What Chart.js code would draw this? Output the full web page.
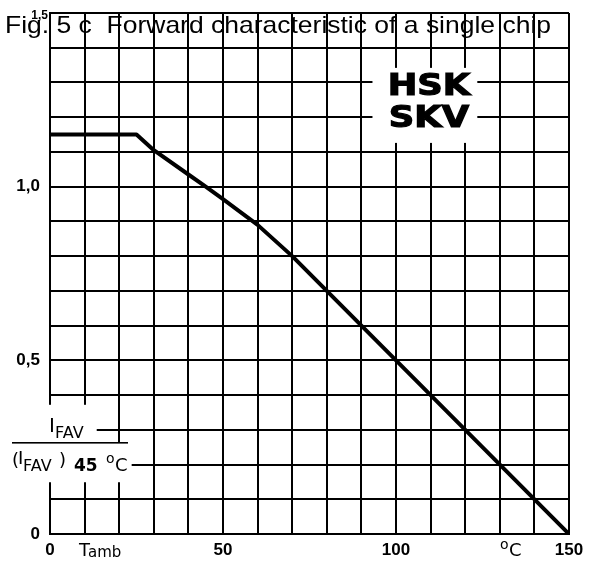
<!DOCTYPE html>
<html>
<head>
<meta charset="utf-8">
<script src="https://cdn.jsdelivr.net/npm/chart.js@4/dist/chart.umd.min.js"></script>
<style>
  html, body { margin: 0; padding: 0; background: #fff; }
  #wrap { width: 589px; height: 563px; position: relative; }
</style>
</head>
<body>
<div id="wrap"><canvas id="myChart"></canvas></div>
<script>
// Derating curve
const ambientTemp = [0, 25, 30, 40, 45, 50, 60, 70, 150];                 // °C
const currentRatio = [1.15, 1.15, 1.105, 1.035, 1.0, 0.964, 0.89, 0.8, 0]; // IFAV / (IFAV) 45 °C

// Only a few grid lines carry labels
const xTickLabels = { 0: '0', 50: '50', 100: '100', 150: '150' };
const yTickLabels = { 0: '0', 0.5: '0,5', 1: '1,0' };
const topTickLabel = '1,5';

const titleText = 'Fig. 5 c  Forward characteristic of a single chip';
const typeLabels = ['HSK', 'SKV'];

// fill a white patch given in data units
function whitePatch(ctx, xs, ys, x0, x1, y0, y1) {
  const left = x0 === null ? 8 : xs.getPixelForValue(x0);
  const right = xs.getPixelForValue(x1);
  const top = ys.getPixelForValue(y0);
  const bottom = ys.getPixelForValue(y1);
  ctx.fillRect(left, top, right - left, bottom - top);
}

// Text and white patches drawn over the grid, like in the printed sheet
const overlayPlugin = {
  id: 'overlay',
  afterDraw(chart) {
    const ctx = chart.ctx;
    const xs = chart.scales.x;
    const ys = chart.scales.y;
    ctx.save();

    // white patches behind the labels
    ctx.fillStyle = '#fff';
    whitePatch(ctx, xs, ys, null, 13.5, 0.372, 0.262);
    whitePatch(ctx, xs, ys, null, 23.6, 0.264, 0.149);
    whitePatch(ctx, xs, ys, 93.2, 123.5, 1.342, 1.126);

    ctx.fillStyle = '#000';
    ctx.strokeStyle = '#000';
    ctx.textBaseline = 'alphabetic';

    // small top tick label, tucked under the title
    ctx.font = 'bold 12px "Liberation Sans", Arial, sans-serif';
    ctx.textAlign = 'right';
    ctx.fillText(topTickLabel, 48, 19);

    // title runs across the top row of the grid, stretched to the printed width
    ctx.font = '24px "Liberation Sans", Arial, sans-serif';
    ctx.textAlign = 'left';
    const tw = ctx.measureText(titleText).width;
    ctx.save();
    ctx.translate(5, 33);
    ctx.scale(546 / tw, 1);
    ctx.fillText(titleText, 0, 0);
    ctx.restore();

    // type designations in a heavy face
    ctx.font = 'bold 30px "DejaVu Sans", sans-serif';
    ctx.textAlign = 'center';
    ctx.lineWidth = 1.2;
    [[typeLabels[0], 95], [typeLabels[1], 127]].forEach(([txt, base]) => {
      ctx.save();
      ctx.translate(429, base);
      ctx.scale(1.18, 1);
      ctx.fillText(txt, 0, 0);
      ctx.strokeText(txt, 0, 0);
      ctx.restore();
    });

    // y axis title as a fraction
    ctx.textAlign = 'left';
    ctx.font = '20px "DejaVu Sans", sans-serif';
    ctx.fillText('I', 49, 432);
    ctx.font = '16px "DejaVu Sans", sans-serif';
    ctx.fillText('FAV', 55, 438);
    ctx.fillRect(12, 442, 116, 1.6);
    ctx.font = '18px "DejaVu Sans", sans-serif';
    ctx.fillText('(', 12, 466);
    ctx.fillText('I', 18, 464);
    ctx.font = '16px "DejaVu Sans", sans-serif';
    ctx.fillText('FAV', 23, 471);
    ctx.font = '18px "DejaVu Sans", sans-serif';
    ctx.fillText(')', 59, 466);
    ctx.font = 'bold 17px "DejaVu Sans", sans-serif';
    ctx.fillText('45', 74, 471);
    ctx.font = '14px "DejaVu Sans", sans-serif';
    ctx.fillText('o', 106, 463);
    ctx.font = '18px "DejaVu Sans", sans-serif';
    ctx.fillText('C', 115, 471);

    // x axis names
    ctx.font = '18px "DejaVu Sans", sans-serif';
    ctx.fillText('T', 79, 556);
    ctx.font = '15px "DejaVu Sans", sans-serif';
    ctx.fillText('amb', 88, 557);
    ctx.font = '14px "DejaVu Sans", sans-serif';
    ctx.fillText('o', 500, 549);
    ctx.font = '18px "DejaVu Sans", sans-serif';
    ctx.fillText('C', 509, 556);

    ctx.restore();
  }
};

const ctx = document.getElementById('myChart').getContext('2d');
const myChart = new Chart(ctx, {
  type: 'scatter',
  data: {
    datasets: [{
      data: ambientTemp.map((t, i) => ({ x: t, y: currentRatio[i] })),
      showLine: true,
      borderColor: '#000',
      borderWidth: 4,
      borderJoinStyle: 'round',
      pointRadius: 0,
      tension: 0
    }]
  },
  options: {
    responsive: true,
    maintainAspectRatio: false,
    animation: false,
    layout: { padding: { top: 13, right: 20, left: 0, bottom: 0 } },
    plugins: {
      legend: { display: false },
      tooltip: { enabled: false }
    },
    scales: {
      x: {
        type: 'linear',
        min: 0,
        max: 150,
        afterFit: scale => {
          scale.height = 29;
          scale.paddingLeft = 0;
          scale.paddingRight = 0;
        },
        border: { color: '#000', width: 2 },
        grid: { color: '#000', lineWidth: 2, drawTicks: false },
        ticks: {
          stepSize: 10,
          autoSkip: false,
          maxRotation: 0,
          padding: 6,
          color: '#000',
          font: { family: '"Liberation Sans", Arial, sans-serif', size: 17, weight: 'bold' },
          callback: value => xTickLabels[value] || ''
        }
      },
      y: {
        type: 'linear',
        min: 0,
        max: 1.5,
        afterFit: scale => {
          scale.width = 50;
          scale.paddingTop = 0;
          scale.paddingBottom = 0;
        },
        border: { color: '#000', width: 2 },
        grid: { color: '#000', lineWidth: 2, drawTicks: false },
        ticks: {
          stepSize: 0.1,
          autoSkip: false,
          padding: 10,
          color: '#000',
          font: { family: '"Liberation Sans", Arial, sans-serif', size: 17, weight: 'bold' },
          callback: value => {
            const key = Math.round(value * 10) / 10;
            return yTickLabels[key] || '';
          }
        }
      }
    }
  },
  plugins: [overlayPlugin]
});
</script>
</body>
</html>
